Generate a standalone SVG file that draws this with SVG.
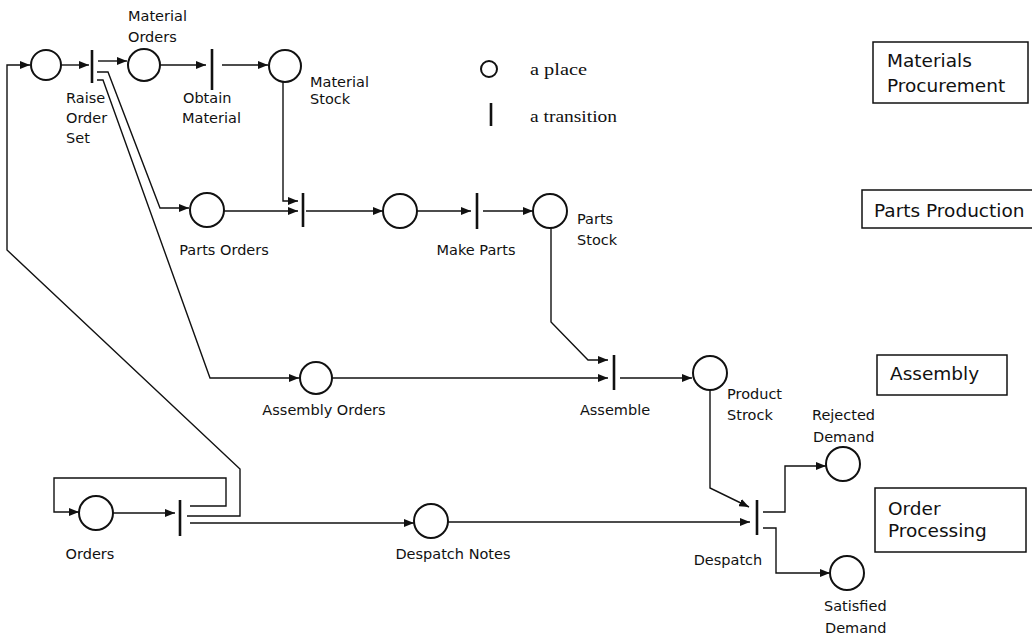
<svg xmlns="http://www.w3.org/2000/svg" width="1032" height="637" viewBox="0 0 1032 637">
<style>
.pl{fill:none;stroke:#111;stroke-width:2}
.tr{stroke:#111;stroke-width:2.6}
.c{fill:none;stroke:#111;stroke-width:1.4}
.a{marker-end:url(#ah)}
.t{font-family:"DejaVu Sans",sans-serif;font-size:14.5px;fill:#111}
.m{text-anchor:middle}
.bt{font-family:"DejaVu Sans",sans-serif;font-size:18.5px;fill:#111}
.bx{fill:none;stroke:#111;stroke-width:1.5}
.lg{font-family:"Liberation Serif",serif;font-size:16px;fill:#111}
</style>
<defs>
<marker id="ah" markerUnits="userSpaceOnUse" markerWidth="10" markerHeight="8" refX="10" refY="4" orient="auto">
<path d="M0,0 L10,4 L0,8 z" fill="#111"/>
</marker>
</defs>
<rect width="1032" height="637" fill="#fff"/>

<g id="connectors">
<path class="c a" d="M61,65 H89"/>
<path class="c a" d="M98,61 H127"/>
<path class="c a" d="M160,65 H206"/>
<path class="c a" d="M222,65 H268"/>
<path class="c a" d="M283,82 V201 H298"/>
<path class="c a" d="M224,211 H298"/>
<path class="c a" d="M306,211 H383"/>
<path class="c a" d="M417,211 H471"/>
<path class="c a" d="M483,211 H533"/>
<path class="c a" d="M551,228 V322 L588,360 H608"/>
<path class="c a" d="M332,378 H608"/>
<path class="c a" d="M620,378 H692"/>
<path class="c a" d="M710,390 V488 L749,507"/>
<path class="c a" d="M448,522 H750"/>
<path class="c a" d="M763,512 H785 V466 H826"/>
<path class="c a" d="M763,528 H776 V573 H830"/>
<path class="c a" d="M113,513 H175"/>
<path class="c a" d="M190,506 H226 V478 H54 V512 H79"/>
<path class="c a" d="M187,516 H240 V469 L7,250 V65 H30"/>
<path class="c a" d="M190,523 H414"/>
<path class="c a" d="M97,72 H108 L160,208 H189"/>
<path class="c a" d="M97,80 H103 L210,378 H299"/>
</g>

<g id="p0"><circle class="pl" cx="46" cy="65" r="15"/></g>
<g id="material-orders"><circle class="pl" cx="144" cy="65" r="16"/>
<text class="t" x="128" y="21">Material</text><text class="t" x="128" y="42">Orders</text></g>
<g id="raise-order-set"><line class="tr" x1="92" y1="50" x2="92" y2="83"/>
<text class="t" x="66" y="103">Raise</text><text class="t" x="66" y="123">Order</text><text class="t" x="66" y="143">Set</text></g>
<g id="obtain-material"><line class="tr" x1="212" y1="49" x2="212" y2="90"/>
<text class="t" x="183" y="103">Obtain</text><text class="t" x="182" y="123">Material</text></g>
<g id="material-stock"><circle class="pl" cx="285" cy="66" r="16"/>
<text class="t" x="310" y="87">Material</text><text class="t" x="310" y="104">Stock</text></g>
<g id="parts-orders"><circle class="pl" cx="207" cy="210" r="17"/>
<text class="t m" x="224" y="255">Parts Orders</text></g>
<g id="t-parts"><line class="tr" x1="303" y1="193" x2="303" y2="227"/></g>
<g id="p-mid"><circle class="pl" cx="400" cy="211" r="17"/></g>
<g id="make-parts"><line class="tr" x1="477" y1="193" x2="477" y2="229"/>
<text class="t m" x="476" y="255">Make Parts</text></g>
<g id="parts-stock"><circle class="pl" cx="550" cy="211" r="17"/>
<text class="t" x="577" y="224">Parts</text><text class="t" x="577" y="245">Stock</text></g>
<g id="assembly-orders"><circle class="pl" cx="316" cy="378" r="16"/>
<text class="t m" x="324" y="415">Assembly Orders</text></g>
<g id="assemble"><line class="tr" x1="614" y1="355" x2="614" y2="390"/>
<text class="t m" x="615" y="415">Assemble</text></g>
<g id="product-strock"><circle class="pl" cx="710" cy="373" r="17"/>
<text class="t" x="727" y="399">Product</text><text class="t" x="727" y="420">Strock</text></g>
<g id="orders"><circle class="pl" cx="96" cy="513" r="17"/>
<text class="t m" x="90" y="559">Orders</text></g>
<g id="orders-t"><line class="tr" x1="180" y1="500" x2="180" y2="536"/></g>
<g id="despatch-notes"><circle class="pl" cx="431" cy="521" r="17"/>
<text class="t m" x="453" y="559">Despatch Notes</text></g>
<g id="despatch"><line class="tr" x1="757" y1="500" x2="757" y2="535"/>
<text class="t m" x="728" y="565">Despatch</text></g>
<g id="rejected-demand"><circle class="pl" cx="843" cy="464" r="17"/>
<text class="t" x="812" y="420">Rejected</text><text class="t" x="813" y="442">Demand</text></g>
<g id="satisfied-demand"><circle class="pl" cx="847" cy="573" r="17"/>
<text class="t" x="824" y="611">Satisfied</text><text class="t" x="825" y="633">Demand</text></g>

<g id="legend">
<circle class="pl" cx="489" cy="69" r="8"/>
<text class="lg" x="530" y="75" textLength="57" lengthAdjust="spacingAndGlyphs">a place</text>
<line class="tr" x1="491" y1="103" x2="491" y2="126"/>
<text class="lg" x="530" y="122" textLength="87" lengthAdjust="spacingAndGlyphs">a transition</text>
</g>

<g id="box-materials"><rect class="bx" x="873" y="42" width="155" height="61"/>
<text class="bt" x="887" y="67">Materials</text><text class="bt" x="887" y="92">Procurement</text></g>
<g id="box-parts"><rect class="bx" x="862" y="190" width="180" height="38"/>
<text class="bt" x="874" y="217">Parts Production</text></g>
<g id="box-assembly"><rect class="bx" x="877" y="355" width="130" height="40"/>
<text class="bt" x="890" y="380">Assembly</text></g>
<g id="box-order"><rect class="bx" x="875" y="488" width="151" height="64"/>
<text class="bt" x="888" y="515">Order</text><text class="bt" x="888" y="537">Processing</text></g>
</svg>
